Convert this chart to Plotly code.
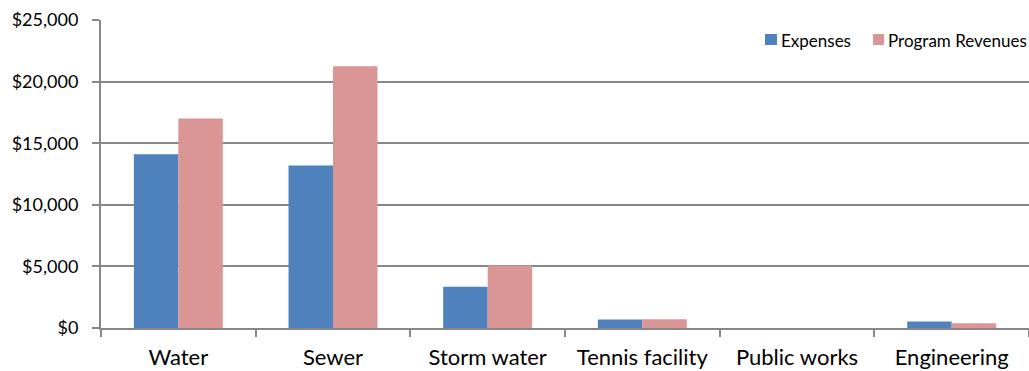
import plotly.graph_objects as go

categories = ["Water", "Sewer", "Storm water", "Tennis facility", "Public works", "Engineering"]
expenses = [14100, 13200, 3350, 690, 0, 520]
program_revenues = [17000, 21250, 5080, 710, 0, 380]
y_ticks = [0, 5000, 10000, 15000, 20000, 25000]
y_tick_labels = ["$0", "$5,000", "$10,000", "$15,000", "$20,000", "$25,000"]
series_names = ["Expenses", "Program Revenues"]
series_colors = ["#4F81BD", "#D99694"]

FONT = "Lato"
AXIS_GRAY = "#878787"

fig = go.Figure()
for name, values, color in zip(series_names, [expenses, program_revenues], series_colors):
    fig.add_trace(go.Bar(name=name, x=categories, y=values,
                         marker=dict(color=color, line=dict(width=0))))

fig.update_layout(
    width=1029, height=371,
    margin=dict(l=101, r=0, t=20, b=43),
    paper_bgcolor="white", plot_bgcolor="white",
    barmode="group", bargap=0.425, bargroupgap=0,
    font=dict(family=FONT, color="#000000"),
    showlegend=False,
)

# Compact legend in the top-right corner: colour swatch + series name
legend_items = [
    dict(box=(0.7155, 0.7284), text_x=0.7317),
    dict(box=(0.8319, 0.8438), text_x=0.8470),
]
for name, color, item in zip(series_names, series_colors, legend_items):
    x0, x1 = item["box"]
    fig.add_shape(type="rect", xref="paper", yref="paper",
                  x0=x0, x1=x1, y0=0.9188, y1=0.9545,
                  fillcolor=color, line=dict(width=0), layer="above")
    fig.add_annotation(xref="paper", yref="paper", x=item["text_x"], y=0.935,
                       xanchor="left", yanchor="middle", showarrow=False,
                       text=name, font=dict(size=17, family=FONT, color="#000000"),
                       borderpad=0)

fig.update_xaxes(
    showline=True, linecolor=AXIS_GRAY, linewidth=2,
    ticks="outside", tickson="boundaries", ticklen=7, tickcolor=AXIS_GRAY, tickwidth=2,
    showgrid=False, tickfont=dict(size=22, family=FONT), ticklabelstandoff=9,
)
fig.update_yaxes(
    range=[0, 25000], tickvals=y_ticks, ticktext=y_tick_labels,
    showline=True, linecolor=AXIS_GRAY, linewidth=2,
    ticks="outside", ticklen=7, tickcolor=AXIS_GRAY, tickwidth=2,
    showgrid=True, gridcolor=AXIS_GRAY, gridwidth=2,
    zeroline=False, tickfont=dict(size=18, family=FONT), ticklabelstandoff=10,
)

fig.write_html("out.html")
